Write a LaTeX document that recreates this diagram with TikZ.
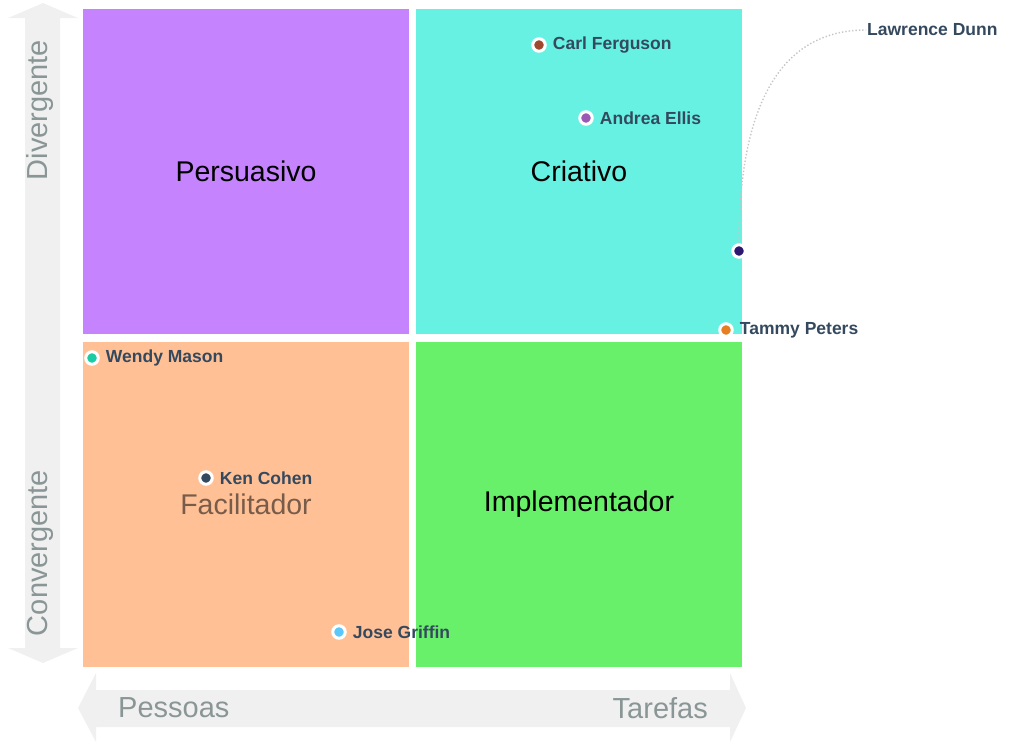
\documentclass[tikz,border=0pt]{standalone}
\usepackage{fontspec}
\setmainfont{Liberation Sans}
\usetikzlibrary{positioning}

\definecolor{persuasivo}{HTML}{C683FE}
\definecolor{criativo}{HTML}{67F1E2}
\definecolor{facilitador}{HTML}{FFC096}
\definecolor{implementador}{HTML}{69F06A}
\definecolor{axisfill}{HTML}{F0F0F0}
\definecolor{axistext}{HTML}{8A9696}
\definecolor{nametext}{HTML}{34495E}
\definecolor{facilitext}{RGB}{120,92,74}
\definecolor{carlc}{RGB}{160,72,45}
\definecolor{andreac}{RGB}{155,89,182}
\definecolor{lawrencec}{RGB}{44,24,110}
\definecolor{tammyc}{RGB}{230,126,34}
\definecolor{wendyc}{RGB}{26,204,164}
\definecolor{josec}{RGB}{90,200,250}

\tikzset{
  quadrant/.style={minimum width=326pt, minimum height=325pt, inner sep=0pt,
    font=\fontsize{28.5}{30}\selectfont},
  person/.style={circle, fill=#1, draw=white, line width=3pt, minimum size=12.5pt, inner sep=0pt},
  who/.style={text=nametext, inner sep=1pt, font=\fontsize{17.5}{19}\selectfont\bfseries},
  axislabel/.style={text=axistext, inner sep=0pt, font=\fontsize{29}{31}\selectfont},
  leader/.style={draw=gray!45, dotted, line width=1.4pt}
}

\begin{document}
\begin{tikzpicture}[x=1pt,y=-1pt]
	\useasboundingbox (0,0) rectangle (1010,742);

	% axes
	\fill[axisfill] (25,18) -- (8,18) -- (43,3) -- (78,18) -- (60,18) -- (60,648) -- (78,648) -- (43,663) -- (8,648) -- (25,648) -- cycle;
	\fill[axisfill] (96,690) -- (96,673) -- (78,708) -- (96,742) -- (96,727) -- (730,727) -- (730,742) -- (746,708) -- (730,673) -- (730,690) -- cycle;
	\node[axislabel, rotate=90] (divergente) at (40,110) {Divergente};
	\node[axislabel, rotate=90] (convergente) at (40,553) {Convergente};
	\node[axislabel, anchor=west] (pessoas) at (118,708) {Pessoas};
	\node[axislabel, anchor=east] (tarefas) at (708,708) {Tarefas};

	% quadrants
	\node[quadrant, fill=persuasivo] (persuasivo) at (246,171) {\raisebox{-2pt}{Persuasivo}};
	\node[quadrant, fill=criativo] (criativo) at (579,171) {\raisebox{-2pt}{Criativo}};
	\node[quadrant, fill=facilitador, text=facilitext] (facilitador) at (246,504) {Facilitador};
	\node[quadrant, fill=implementador] (implementador) at (579,504) {\raisebox{-2pt}{Implementador}};

	% people
	\node[person=carlc] (carl) at (539,45) {};
	\node[who, right=5pt of carl] (carllabel) {Carl Ferguson};
	\node[person=andreac] (andrea) at (586,118) {};
	\node[who, right=5pt of andrea] (andrealabel) {Andrea Ellis};
	\node[person=lawrencec] (lawrence) at (739,251) {};
	\node[who, anchor=west] (lawrencelabel) at (866,30) {Lawrence Dunn};
	\node[person=tammyc] (tammy) at (726,330) {};
	\node[who, right=5pt of tammy] (tammylabel) {Tammy Peters};
	\node[person=wendyc] (wendy) at (92,358) {};
	\node[who, right=5pt of wendy] (wendylabel) {Wendy Mason};
	\node[person=nametext] (ken) at (206,478) {};
	\node[who, right=5pt of ken] (kenlabel) {Ken Cohen};
	\node[person=josec] (jose) at (339,632) {};
	\node[who, right=5pt of jose] (joselabel) {Jose Griffin};

	\draw[leader] (lawrence.north) .. controls +(0,-130) and +(-90,0) .. (lawrencelabel.west);
\end{tikzpicture}
\end{document}
